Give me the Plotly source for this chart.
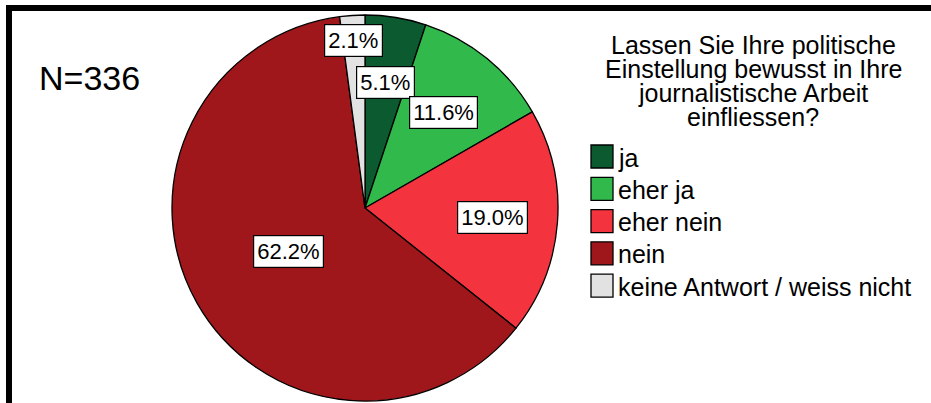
import math
import plotly.graph_objects as go

categories = ["ja", "eher ja", "eher nein", "nein", "keine Antwort / weiss nicht"]
percent_values = [5.1, 11.6, 19.0, 62.2, 2.1]
slice_colors = ["#0c5a30", "#31b94c", "#f3343f", "#a0171b", "#e2e2e2"]
title_lines = ["Lassen Sie Ihre politische", "Einstellung bewusst in Ihre",
               "journalistische Arbeit", "einfliessen?"]
sample_label = "N=336"

# layout (pixels)
W, H = 931, 403
CX, CY, R = 365, 208, 193
label_radius = [0.66, 0.64, 0.665, 0.455, 0.87]
FONT = "Liberation Sans, Arial, sans-serif"

def px(x):
    return x / W

def py(y):
    return 1 - y / H

fig = go.Figure()
fig.add_trace(go.Pie(
    labels=categories,
    values=percent_values,
    sort=False,
    direction="clockwise",
    rotation=0,
    marker=dict(colors=slice_colors, line=dict(color="black", width=1.3)),
    textinfo="none",
    hoverinfo="label+percent",
    showlegend=False,
    domain=dict(x=[px(CX - R), px(CX + R)], y=[py(CY + R), py(CY - R)]),
))

annotations = []
shapes = []

# percentage labels in boxes, placed at mid-angle of each slice
total = sum(percent_values)
cum = 0.0
for v, rf in zip(percent_values, label_radius):
    mid = (cum + v / 2) / total * 2 * math.pi
    cum += v
    x = CX + rf * R * math.sin(mid)
    y = CY - rf * R * math.cos(mid)
    annotations.append(dict(
        x=px(x), y=py(y), xref="paper", yref="paper",
        text=f"{v:.1f}%", showarrow=False,
        font=dict(family=FONT, size=22, color="black"),
        bgcolor="white", bordercolor="black", borderwidth=1.2, borderpad=3,
        xanchor="center", yanchor="middle",
    ))

# N label
annotations.append(dict(
    x=px(89), y=py(78), xref="paper", yref="paper", text=sample_label,
    showarrow=False, font=dict(family=FONT, size=34, color="black"),
    xanchor="center", yanchor="middle",
))

# legend title (one annotation per line to get the tight line spacing)
for i, line in enumerate(title_lines):
    annotations.append(dict(
        x=px(753), y=py(45 + 24 * i), xref="paper", yref="paper", text=line,
        showarrow=False, font=dict(family=FONT, size=25, color="black"),
        xanchor="center", yanchor="middle",
    ))

# legend entries
for i, (cat, col) in enumerate(zip(categories, slice_colors)):
    yc = 156.5 + 32.3 * i
    shapes.append(dict(
        type="rect", xref="paper", yref="paper",
        x0=px(591), x1=px(613), y0=py(yc - 11.5), y1=py(yc + 11.5),
        fillcolor=col, line=dict(color="black", width=1.3),
    ))
    annotations.append(dict(
        x=px(616), y=py(yc + 1), xref="paper", yref="paper", text=cat,
        showarrow=False, font=dict(family=FONT, size=25, color="black"),
        xanchor="left", yanchor="middle",
    ))

# frame (top and left bars)
shapes.append(dict(type="rect", xref="paper", yref="paper",
                   x0=px(6), x1=1, y0=py(11), y1=py(5),
                   fillcolor="black", line=dict(width=0)))
shapes.append(dict(type="rect", xref="paper", yref="paper",
                   x0=px(6), x1=px(12), y0=0, y1=py(5),
                   fillcolor="black", line=dict(width=0)))

fig.update_layout(
    width=W, height=H,
    margin=dict(l=0, r=0, t=0, b=0),
    paper_bgcolor="white", plot_bgcolor="white",
    annotations=annotations, shapes=shapes,
)

fig.write_html("out.html", config={"displayModeBar": False},
               post_script="document.body.style.margin='0';")
